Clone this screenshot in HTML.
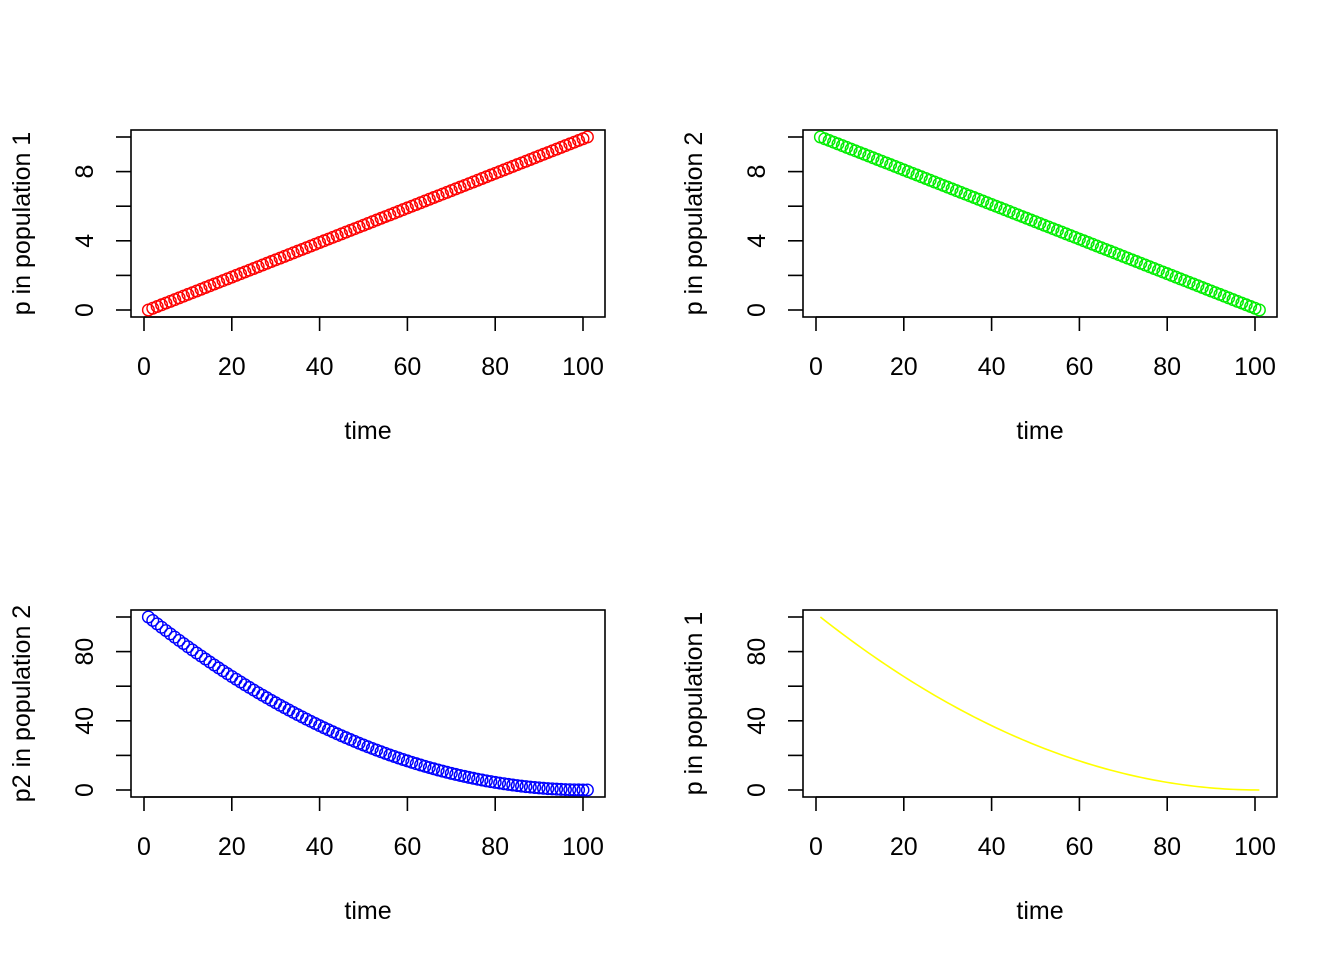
<!DOCTYPE html>
<html><head><style>body{margin:0;background:#fff}svg{display:block}text{font-family:"Liberation Sans",Arial,sans-serif;font-size:25px;fill:#000}</style></head>
<body>
<svg id="s" width="1344" height="960" xmlns="http://www.w3.org/2000/svg"></svg>
<script>
const s=document.getElementById('s');let h='';
function panel(ox,oy,kind){
 const L=ox,R=ox+474,T=oy,B=oy+187;
 const x0=L+13,xs=4.39;
 const y0=B-7,yT=T+7;
 h+=`<rect x="${L}" y="${T}" width="474" height="187" fill="none" stroke="#000" stroke-width="1.6"/>`;
 const ay=B;
 for(let v=0;v<=100;v+=20){const x=x0+v*xs;h+=`<line x1="${x}" y1="${ay}" x2="${x}" y2="${ay+14}" stroke="#000" stroke-width="1.6"/><text x="${x}" y="${ay+58}" text-anchor="middle">${v}</text>`;}
 h+=`<line x1="${x0}" y1="${ay}" x2="${x0+100*xs}" y2="${ay}" stroke="#000" stroke-width="1.6"/>`;
 h+=`<text x="${(L+R)/2}" y="${B+122}" text-anchor="middle">time</text>`;
 const ax=L;
 const ymax=kind<2?10:100;
 for(let k=0;k<=5;k++){const y=y0-(y0-yT)*k/5;h+=`<line x1="${ax}" y1="${y}" x2="${ax-15}" y2="${y}" stroke="#000" stroke-width="1.6"/>`;
  if(k%2==0){const v=ymax*k/5;h+=`<text transform="translate(${ax-38},${y}) rotate(-90)" text-anchor="middle">${v}</text>`;}}
 const titles=['p in population 1','p in population 2','p2 in population 2','p in population 1'];
 h+=`<text transform="translate(${L-101},${(T+B)/2}) rotate(-90)" text-anchor="middle">${titles[kind]}</text>`;
 const cols=['#ff0000','#00ee00','#0000ff','#ffff00'];
 let pts=[];
 for(let i=0;i<=100;i++){let v;
  if(kind==0)v=i/10;else if(kind==1)v=10-i/10;else v=Math.pow(1-i/100,2)*100;
  pts.push([x0+(i+1)*xs,y0-(y0-yT)*v/ymax]);}
 if(kind==3){h+=`<polyline fill="none" stroke="${cols[3]}" stroke-width="1.6" points="${pts.map(p=>p.join(',')).join(' ')}"/>`;}
 else pts.forEach(p=>{h+=`<circle cx="${p[0]}" cy="${p[1]}" r="5.8" fill="none" stroke="${cols[kind]}" stroke-width="1.4"/>`;});
}
panel(131,130,0);panel(803,130,1);panel(131,610,2);panel(803,610,3);
s.innerHTML=h;
</script>
</body></html>
